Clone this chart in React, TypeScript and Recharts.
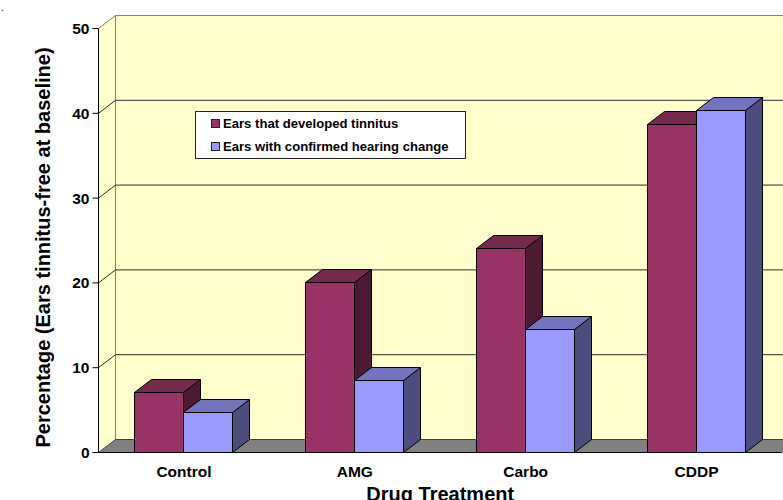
import React from "react";
import {
  BarChart,
  Bar,
  XAxis,
  YAxis,
  CartesianGrid,
  Legend,
  ReferenceArea,
} from "recharts";

const categories = ["Control", "AMG", "Carbo", "CDDP"];
const tinnitusValues = [7.1, 20.1, 24.1, 38.7];
const hearingValues = [4.7, 8.5, 14.5, 40.3];
const yTicks = [0, 10, 20, 30, 40, 50];

const FONT = '"Liberation Sans", Arial, sans-serif';
const WALL = "#FFFFCC";
const FLOOR = "#808080";
// depth of the fake 3D projection, in pixels
const DX = 17;
const DY = 13;

const chartData = categories.map((name, i) => ({
  name,
  tinnitus: tinnitusValues[i],
  hearing: hearingValues[i],
}));

// keep 1px outlines on whole pixels
const snap = (v: number) => Math.round(v - 0.5) + 0.5;

const makeBar3D = (topFill: string, sideFill: string) => (props: any) => {
  const x = snap(props.x);
  const y = snap(props.y);
  const r = snap(props.x + props.width);
  const b = snap(props.y + props.height);
  const edge = { stroke: "#000", strokeWidth: 1, strokeLinejoin: "round" as const };
  return (
    <g>
      <polygon
        points={`${r},${y} ${r + DX},${y - DY} ${r + DX},${b - DY} ${r},${b}`}
        fill={sideFill}
        {...edge}
      />
      <polygon
        points={`${x},${y} ${x + DX},${y - DY} ${r + DX},${y - DY} ${r},${y}`}
        fill={topFill}
        {...edge}
      />
      <rect x={x} y={y} width={r - x} height={b - y} fill={props.fill} {...edge} />
    </g>
  );
};

const TinnitusBar = makeBar3D("#732A4D", "#4D1A33");
const HearingBar = makeBar3D("#7373BF", "#4D4D80");

// back wall, left wall and floor of the 3D box
function ChartBox(props: any) {
  const { x, y, width, height } = props;
  const r = x + width;
  const b = y + height;
  return (
    <g>
      <polygon
        points={`${x},${y} ${x + DX},${y - DY} ${x + DX},${b - DY} ${x},${b}`}
        fill={WALL}
      />
      <rect x={x + DX} y={y - DY} width={width} height={height} fill={WALL} />
      <polygon
        points={`${x},${b} ${x + DX},${b - DY} ${r + DX},${b - DY} ${r},${b}`}
        fill={FLOOR}
      />
      <line x1={x + DX} y1={y - DY} x2={x + DX} y2={b - DY} stroke="#808080" />
      <line x1={x + DX} y1={b - DY} x2={r + DX} y2={b - DY} stroke="#404040" />
      <line x1={x} y1={b} x2={x + DX} y2={b - DY} stroke="#404040" />
      <text x={1} y={11} fontSize={10} fontFamily={FONT} fill="#000">
        .
      </text>
    </g>
  );
}

function GridLine(props: any) {
  const { x1, y1, x2, index } = props;
  const isTop = y1 < 30;
  const isBottom = y1 > 450;
  if (isBottom) return <line key={index} />;
  const stroke = isTop ? "#808080" : "#2b2b2b";
  return (
    <g key={index}>
      <line x1={x1} y1={y1} x2={x1 + DX} y2={y1 - DY} stroke={stroke} />
      <line x1={x1 + DX} y1={y1 - DY} x2={x2 + DX} y2={y1 - DY} stroke={stroke} />
    </g>
  );
}

function LegendBox({ payload }: any) {
  return (
    <div
      style={{
        boxSizing: "border-box",
        width: 271,
        height: 48,
        background: "#fff",
        border: "1px solid #222",
        fontFamily: FONT,
        fontWeight: "bold",
        fontSize: 13.1,
        color: "#000",
        paddingLeft: 15,
        paddingTop: 0,
      }}
    >
      {(payload || []).map((entry: any) => (
        <div
          key={entry.value}
          style={{ display: "flex", alignItems: "center", height: 23 }}
        >
          <span
            style={{
              boxSizing: "border-box",
              width: 9,
              height: 9,
              marginRight: 3,
              background: entry.color,
              border: "1px solid #222",
            }}
          />
          {entry.value}
        </div>
      ))}
    </div>
  );
}

export default function App() {
  return (
    <div style={{ position: "absolute", left: 0, top: 0 }}>
      <BarChart
        width={783}
        height={500}
        data={chartData}
        barGap={0}
        barSize={49}
        margin={{ top: 28.5, right: 1, bottom: 0, left: 0 }}
      >
        <ReferenceArea y1={0} y2={50} shape={ChartBox} ifOverflow="visible" zIndex={-200} />
        <CartesianGrid vertical={false} horizontal={GridLine} />
        <XAxis
          dataKey="name"
          height={47.5}
          axisLine={{ stroke: "#000" }}
          tickLine={false}
          tickMargin={7}
          tick={{ fontFamily: FONT, fontWeight: "bold", fontSize: 15.5, fill: "#000" }}
          label={{
            value: "Drug Treatment",
            position: "insideBottom",
            offset: -1,
            style: { fontFamily: FONT, fontWeight: "bold", fontSize: 20, fill: "#000" },
          }}
        />
        <YAxis
          domain={[0, 50]}
          ticks={yTicks}
          width={98.5}
          axisLine={{ stroke: "#000" }}
          tickLine={{ stroke: "#000" }}
          tickSize={6}
          tickMargin={3}
          tick={{ fontFamily: FONT, fontWeight: "bold", fontSize: 15.5, fill: "#000" }}
          label={{
            value: "Percentage (Ears tinnitus-free at baseline)",
            angle: -90,
            position: "insideLeft",
            offset: 43,
            dy: 7,
            style: {
              textAnchor: "middle",
              fontFamily: FONT,
              fontWeight: "bold",
              fontSize: 20,
              fill: "#000",
            },
          }}
        />
        <Legend
          layout="vertical"
          align="center"
          verticalAlign="middle"
          content={LegendBox}
          wrapperStyle={{ left: 195, top: 111, width: 271, height: 48 }}
        />
        <Bar
          dataKey="tinnitus"
          name="Ears that developed tinnitus"
          fill="#993366"
          shape={TinnitusBar}
          isAnimationActive={false}
        />
        <Bar
          dataKey="hearing"
          name="Ears with confirmed hearing change"
          fill="#9999FF"
          shape={HearingBar}
          isAnimationActive={false}
        />
      </BarChart>
    </div>
  );
}
